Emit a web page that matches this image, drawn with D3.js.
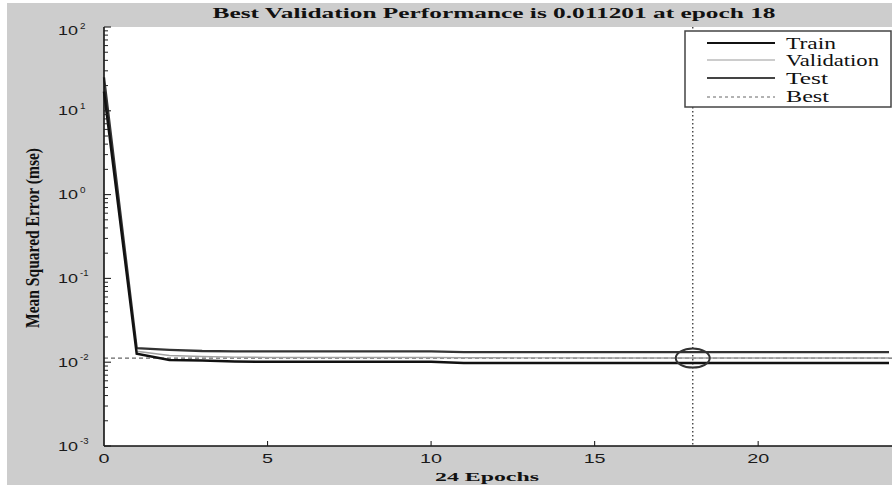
<!DOCTYPE html>
<html><head><meta charset="utf-8">
<script src="https://cdn.jsdelivr.net/npm/d3@7"></script>
<style>html,body{margin:0;padding:0;background:#fff;}svg{display:block;}</style>
</head><body>
<svg id="chart" width="892" height="486"></svg>
<script>
// ---- data ----
const epochs = d3.range(0, 25);
const trainMSE = [17, 0.0126, 0.0106, 0.0105, 0.0102, 0.0101, 0.0101, 0.0101, 0.0101, 0.0101, 0.0101,
  0.0098, 0.0098, 0.0098, 0.0098, 0.0098, 0.0098, 0.0098, 0.0098, 0.0098, 0.0098, 0.0098, 0.0098, 0.0098, 0.0098];
const validationMSE = [20, 0.0135, 0.0120, 0.0117, 0.0115, 0.0114, 0.0114, 0.0114, 0.0114, 0.0114, 0.0114,
  0.01130, 0.01128, 0.01126, 0.01125, 0.01124, 0.01123, 0.01122, 0.011201, 0.011203, 0.011205, 0.011206, 0.011207, 0.011208, 0.011209];
const testMSE = [25, 0.0147, 0.0140, 0.0136, 0.0135, 0.0135, 0.0135, 0.0135, 0.0135, 0.0135, 0.0135,
  0.0132, 0.0132, 0.0132, 0.0132, 0.0132, 0.0132, 0.0132, 0.0132, 0.0132, 0.0132, 0.0132, 0.0132, 0.0132, 0.0132];
const bestEpoch = 18;
const bestValue = 0.011201;
const xTicks = [0, 5, 10, 15, 20];
const yTickExps = [2, 1, 0, -1, -2, -3];
const titleText = "Best Validation Performance is 0.011201 at epoch 18";
const xLabelText = "24 Epochs";
const yLabelText = "Mean Squared Error  (mse)";
const legendItems = ["Train", "Validation", "Test", "Best"];

// ---- layout ----
const svg = d3.select("#chart");
const L = 104, T = 27, B = 446;
const x = d3.scaleLinear().domain([0, 24]).range([L, 889]);
const y = d3.scaleLog().domain([1e-3, 1e2]).range([B, T]);

svg.append("rect").attr("x", 7).attr("y", 3).attr("width", 885).attr("height", 482).attr("fill", "#cdcdcd");
svg.append("rect").attr("x", L).attr("y", T).attr("width", 892 - L).attr("height", B - T).attr("fill", "#fff");

function stretch(sel, w) {
  sel.attr("textLength", w).attr("lengthAdjust", "spacingAndGlyphs");
}

// title
stretch(svg.append("text").attr("x", 494).attr("y", 18).attr("text-anchor", "middle")
  .attr("font-family", "Liberation Serif, serif").attr("font-weight", "bold").attr("font-size", 15)
  .attr("fill", "#111").text(titleText), 563);

// best lines
svg.append("line").attr("x1", L).attr("x2", 892).attr("y1", y(bestValue)).attr("y2", y(bestValue))
  .attr("stroke", "#666").attr("stroke-width", 1.2).attr("stroke-dasharray", "4,3");
svg.append("line").attr("x1", x(bestEpoch)).attr("x2", x(bestEpoch)).attr("y1", T).attr("y2", B)
  .attr("stroke", "#444").attr("stroke-width", 1.4).attr("stroke-dasharray", "1.5,2.5");

// series
const line = d3.line().x((d, i) => x(epochs[i])).y(d => y(d)).curve(d3.curveLinear);
const series = [
  {v: validationMSE, c: "#a0a0a0", w: 1.4},
  {v: testMSE, c: "#333", w: 2.3},
  {v: trainMSE, c: "#111", w: 2.5}
];
series.forEach(s => svg.append("path").datum(s.v).attr("d", line).attr("fill", "none")
  .attr("stroke", s.c).attr("stroke-width", s.w));

// best circle
svg.append("ellipse").attr("cx", x(bestEpoch)).attr("cy", y(bestValue)).attr("rx", 17).attr("ry", 9.5)
  .attr("fill", "none").attr("stroke", "#333").attr("stroke-width", 2);

// axes
svg.append("line").attr("x1", L).attr("x2", L).attr("y1", T).attr("y2", B).attr("stroke", "#111").attr("stroke-width", 1.6);
svg.append("line").attr("x1", L).attr("x2", 892).attr("y1", B).attr("y2", B).attr("stroke", "#111").attr("stroke-width", 1.6);

// y ticks (major + minor)
yTickExps.forEach(e => {
  const yy = y(Math.pow(10, e));
  svg.append("line").attr("x1", L).attr("x2", L + 7).attr("y1", yy).attr("y2", yy).attr("stroke", "#222").attr("stroke-width", 1.1);
  if (e < 2) {
    for (let k = 2; k <= 9; k++) {
      const ym = y(k * Math.pow(10, e));
      svg.append("line").attr("x1", L).attr("x2", L + 4).attr("y1", ym).attr("y2", ym).attr("stroke", "#222").attr("stroke-width", 1);
    }
  }
  const base = e === 2 ? yy + 8 : yy + 4.5;
  stretch(svg.append("text").attr("x", 78).attr("y", base).attr("text-anchor", "end")
    .attr("font-family", "Liberation Sans, sans-serif").attr("font-size", 12.5).attr("fill", "#1a1a1a").text("10"), 20);
  const expStr = String(e);
  stretch(svg.append("text").attr("x", 80).attr("y", base - 6.5).attr("text-anchor", "start")
    .attr("font-family", "Liberation Sans, sans-serif").attr("font-size", 9.5).attr("fill", "#1a1a1a").text(expStr), e < 0 ? 8.5 : 5.5);
});

// x ticks
xTicks.forEach(t => {
  const xx = x(t);
  if (t > 0) svg.append("line").attr("x1", xx).attr("x2", xx).attr("y1", B).attr("y2", B - 5).attr("stroke", "#222").attr("stroke-width", 1.1);
  stretch(svg.append("text").attr("x", xx).attr("y", 463).attr("text-anchor", "middle")
    .attr("font-family", "Liberation Sans, sans-serif").attr("font-size", 13.5).attr("fill", "#1a1a1a").text(String(t)), String(t).length * 11);
});

// axis labels
stretch(svg.append("text").attr("x", 487).attr("y", 481).attr("text-anchor", "middle")
  .attr("font-family", "Liberation Serif, serif").attr("font-weight", "bold").attr("font-size", 13)
  .attr("fill", "#111").text(xLabelText), 104);
const yl = svg.append("g").attr("transform", "translate(39,238) scale(1.5,1) rotate(-90)");
stretch(yl.append("text").attr("x", 0).attr("y", 0).attr("text-anchor", "middle")
  .attr("font-family", "Liberation Serif, serif").attr("font-weight", "bold").attr("font-size", 12.5)
  .attr("fill", "#111").text(yLabelText), 180);

// legend
const lg = svg.append("g");
lg.append("rect").attr("x", 685).attr("y", 31).attr("width", 206).attr("height", 76)
  .attr("fill", "#fff").attr("stroke", "#444").attr("stroke-width", 1.5);
const legStyles = [
  {c: "#111", w: 2.2, d: null, ly: 43, ty: 49, tw: 50},
  {c: "#999", w: 1.2, d: null, ly: 60, ty: 66, tw: 93},
  {c: "#444", w: 2, d: null, ly: 78, ty: 84, tw: 42},
  {c: "#666", w: 1, d: "3,3", ly: 97, ty: 102, tw: 43}
];
legendItems.forEach((name, i) => {
  const s = legStyles[i];
  lg.append("line").attr("x1", 707).attr("x2", 775).attr("y1", s.ly).attr("y2", s.ly)
    .attr("stroke", s.c).attr("stroke-width", s.w).attr("stroke-dasharray", s.d);
  stretch(lg.append("text").attr("x", 786).attr("y", s.ty)
    .attr("font-family", "Liberation Serif, serif").attr("font-size", 16).attr("fill", "#111").text(name), s.tw);
});
</script>
</body></html>
